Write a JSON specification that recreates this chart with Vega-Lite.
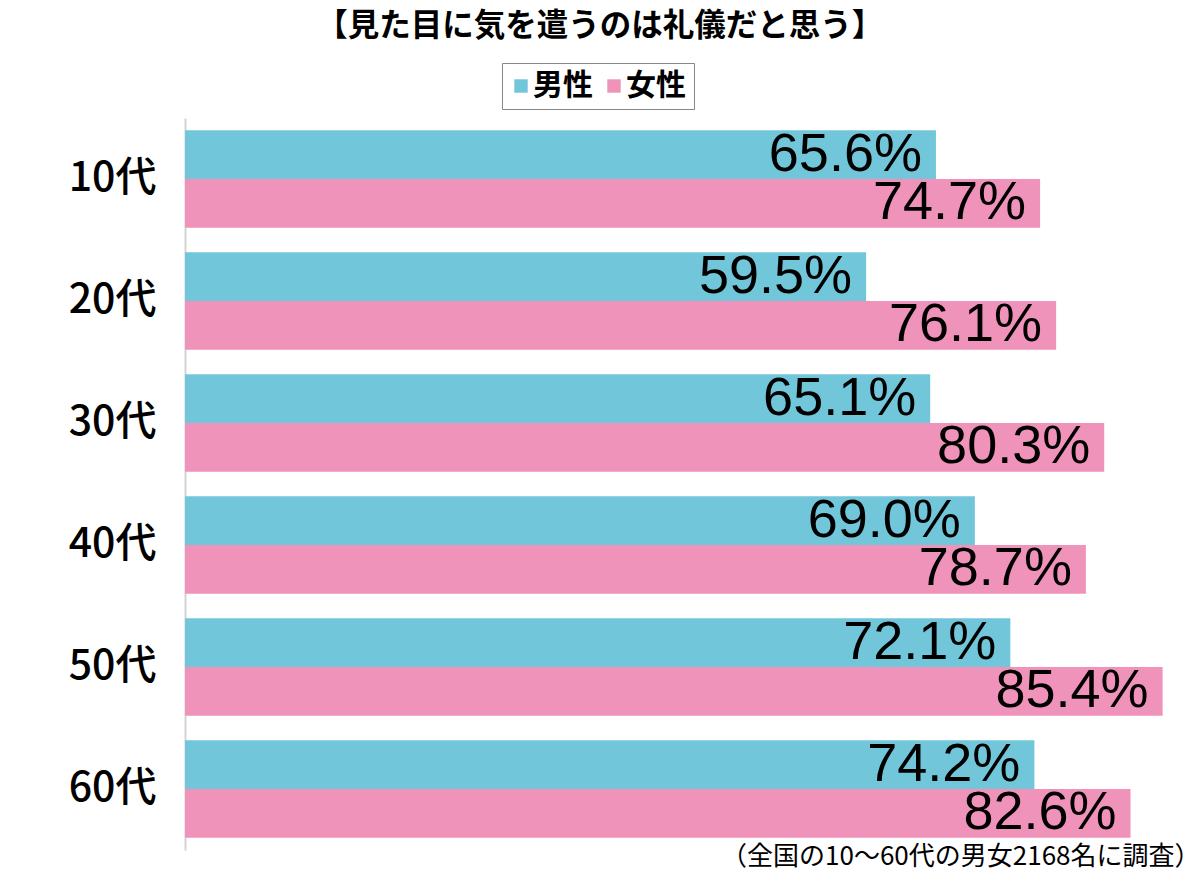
{
  "$schema": "https://vega.github.io/schema/vega-lite/v6.json",
  "width": 977.6,
  "height": 732,
  "autosize": {"type": "none"},
  "padding": {"left": 185, "top": 118, "right": 37.4, "bottom": 20},
  "background": "white",
  "config": {"view": {"stroke": null}, "font": "Noto Sans CJK JP"},
  "title": {
    "text": "【見た目に気を遣うのは礼儀だと思う】",
    "fontSize": 31.5,
    "fontWeight": "bold",
    "color": "black",
    "anchor": "middle",
    "frame": "group",
    "dx": -74,
    "offset": 20
  },
  "data": {
    "values": [
      {"age": "10代", "sex": "男性", "value": 65.6},
      {"age": "10代", "sex": "女性", "value": 74.7},
      {"age": "20代", "sex": "男性", "value": 59.5},
      {"age": "20代", "sex": "女性", "value": 76.1},
      {"age": "30代", "sex": "男性", "value": 65.1},
      {"age": "30代", "sex": "女性", "value": 80.3},
      {"age": "40代", "sex": "男性", "value": 69.0},
      {"age": "40代", "sex": "女性", "value": 78.7},
      {"age": "50代", "sex": "男性", "value": 72.1},
      {"age": "50代", "sex": "女性", "value": 85.4},
      {"age": "60代", "sex": "男性", "value": 74.2},
      {"age": "60代", "sex": "女性", "value": 82.6}
    ]
  },
  "transform": [{"calculate": "format(datum.value, '.1f') + '%'", "as": "label"}],
  "encoding": {
    "y": {
      "field": "age",
      "type": "nominal",
      "sort": ["10代", "20代", "30代", "40代", "50代", "60代"],
      "scale": {"paddingInner": 0.2, "paddingOuter": 0.1},
      "axis": {
        "title": null,
        "domain": true,
        "domainColor": "#d4d4d4",
        "domainWidth": 2,
        "ticks": false,
        "tickSize": 0,
        "grid": false,
        "labelFontSize": 41,
        "labelFontWeight": 500,
        "labelColor": "black",
        "labelPadding": 29
      }
    },
    "yOffset": {
      "field": "sex",
      "type": "nominal",
      "sort": ["男性", "女性"],
      "scale": {"paddingInner": 0, "paddingOuter": 0}
    },
    "x": {
      "field": "value",
      "type": "quantitative",
      "scale": {"domain": [0, 85.4], "nice": false, "zero": true},
      "axis": {
        "labels": false,
        "ticks": false,
        "domain": false,
        "grid": false,
        "title": "（全国の10〜60代の男女2168名に調査）",
        "titleFontSize": 26,
        "titleFontWeight": "normal",
        "titleColor": "black",
        "titleX": 1015,
        "titleY": 6,
        "titleAlign": "right",
        "titleBaseline": "middle"
      }
    }
  },
  "layer": [
    {
      "mark": {"type": "bar"},
      "encoding": {
        "color": {
          "field": "sex",
          "type": "nominal",
          "sort": ["男性", "女性"],
          "scale": {"domain": ["男性", "女性"], "range": ["#71C6DA", "#F093BB"]},
          "legend": {
            "title": null,
            "orient": "none",
            "legendX": 317,
            "legendY": -55,
            "direction": "horizontal",
            "symbolType": "square",
            "symbolSize": 180,
            "symbolStrokeWidth": 0,
            "symbolOffset": -4,
            "labelFontSize": 30,
            "labelFontWeight": "bold",
            "labelColor": "black",
            "labelOffset": -3,
            "columnPadding": 10,
            "padding": 8,
            "strokeColor": "#888888",
            "fillColor": "white"
          }
        }
      }
    },
    {
      "mark": {
        "type": "text",
        "align": "right",
        "baseline": "middle",
        "dx": -14,
        "font": "Liberation Sans",
        "fontSize": 54,
        "color": "black"
      },
      "encoding": {"text": {"field": "label"}}
    }
  ]
}
